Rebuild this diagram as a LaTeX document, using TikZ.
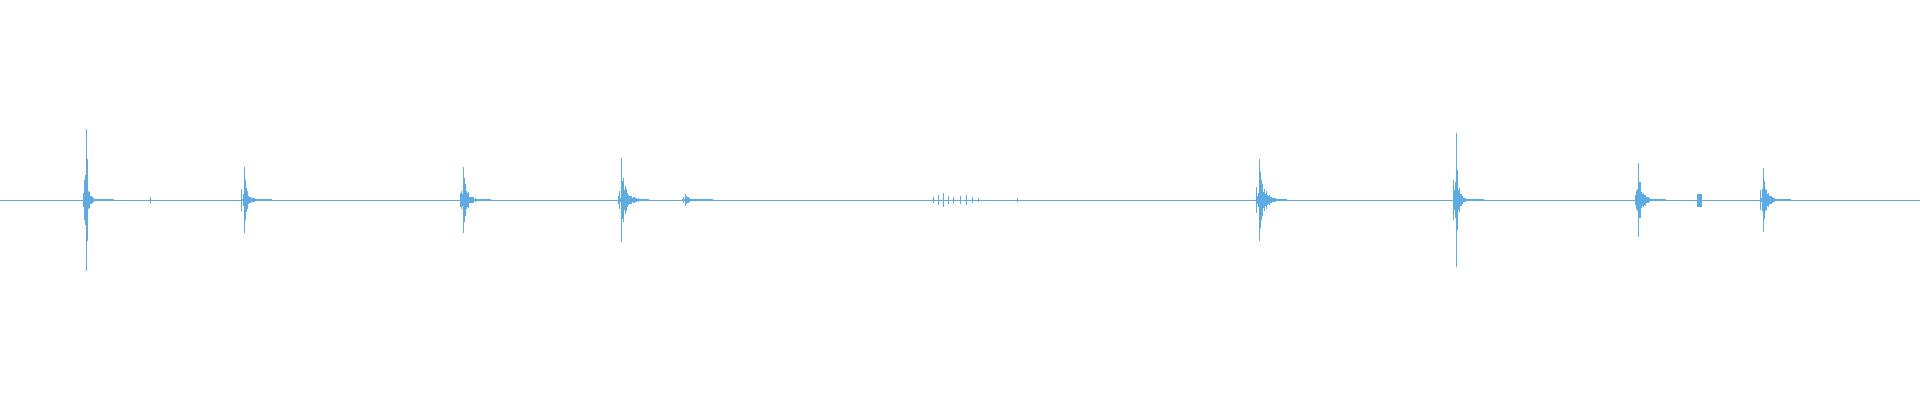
\documentclass[tikz,border=0pt]{standalone}
\usepackage{tikz}
\usetikzlibrary{calc}
\definecolor{wave}{RGB}{94,170,226}
\tikzset{
	trace/.style={draw=wave, line width=0.9pt},
	burst/.style={draw=wave, line width=0.8pt}
}
% #1 = position, #2 = peak, #3 = decay
\newcommand{\spike}[3]{
	\draw[burst] (#1,200-#2) -- (#1,200+#2);
	\foreach \i in {1,...,30} {
		\pgfmathsetmacro{\h}{#2*exp(-\i/#3)*(0.45+0.55*rnd)+0.8}
		\draw[burst] ({#1+\i*0.9},{200-\h}) -- ({#1+\i*0.9},{200+\h});
	}
	\foreach \i in {1,2,3} {
		\pgfmathsetmacro{\h}{#2*0.35*rnd+0.8}
		\draw[burst] ({#1-\i*0.9},{200-\h}) -- ({#1-\i*0.9},{200+\h});
	}
}
\begin{document}
\begin{tikzpicture}[x=1pt, y=1pt]
	\pgfmathsetseed{7}
	\useasboundingbox (0,0) rectangle (1920,400);
	% Baseline
	\draw[trace] (0,200) -- (1920,200);
	% Bursts
	\spike{86}{71}{2}
	\spike{244}{33}{3}
	\spike{463}{33}{4}
	\spike{621}{42}{5}
	\spike{685}{6}{4}
	\spike{1259}{41}{5}
	\spike{1456}{67}{2.5}
	\spike{1638}{37}{4}
	\spike{1763}{32}{4}
	% Small bits
	\foreach \x/\a in {933/3,938/5,943/7,948/4,953/3,960/4,966/5,972/3,978/2,1017/2} {
		\draw[burst] (\x,200-\a) -- (\x,200+\a);
	}
	\draw[burst, fill=wave] (1697,194) rectangle (1701,206);
	\draw[burst] (150,197) -- (150,203);
\end{tikzpicture}
\end{document}
